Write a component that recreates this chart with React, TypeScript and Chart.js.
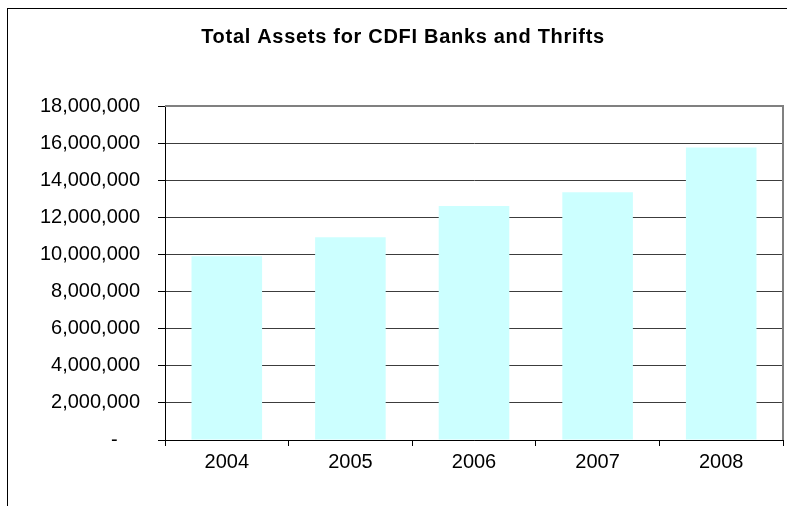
import React, { useEffect, useRef } from "react";
import { Chart, registerables } from "chart.js";

Chart.register(...registerables);

const TITLE = "Total Assets for CDFI Banks and Thrifts";
const YEARS = ["2004", "2005", "2006", "2007", "2008"];
const TOTAL_ASSETS = [9900000, 10920000, 12610000, 13350000, 15770000];
const Y_MIN = 0;
const Y_MAX = 18000000;
const Y_STEP = 2000000;

const FONT_FAMILY = "Arial, 'Liberation Sans', Helvetica, sans-serif";

const framePlugin = {
  id: "framePlugin",
  beforeDatasetsDraw(chart: any) {
    const { ctx, chartArea } = chart;
    ctx.save();
    ctx.strokeStyle = "#808080";
    ctx.lineWidth = 2;
    ctx.beginPath();
    ctx.moveTo(chartArea.left, chartArea.top);
    ctx.lineTo(chartArea.right, chartArea.top);
    ctx.lineTo(chartArea.right, chartArea.bottom);
    ctx.stroke();
    ctx.restore();
  },
  afterDraw(chart: any) {
    const { ctx } = chart;
    ctx.save();
    ctx.font = `bold 20px ${FONT_FAMILY}`;
    try {
      (ctx as any).letterSpacing = "0.7px";
    } catch (e) {}
    ctx.fillStyle = "#000";
    ctx.textAlign = "center";
    ctx.textBaseline = "alphabetic";
    ctx.fillText(TITLE, 403, 43);
    ctx.restore();
  },
};

export default function App() {
  const ref = useRef<HTMLCanvasElement | null>(null);

  useEffect(() => {
    if (!ref.current) return;
    const chart = new Chart(ref.current, {
      type: "bar",
      data: {
        labels: YEARS,
        datasets: [
          {
            data: TOTAL_ASSETS,
            backgroundColor: "#CCFFFF",
            borderWidth: 0,
            barPercentage: 1,
            categoryPercentage: 0.571,
          },
        ],
      },
      options: {
        animation: false,
        responsive: false,
        devicePixelRatio: 1,
        layout: { padding: { top: 106, right: 4, bottom: 0, left: 0 } },
        plugins: {
          legend: { display: false },
          title: { display: false },
          tooltip: { enabled: false },
        },
        scales: {
          x: {
            grid: {
              display: true,
              drawOnChartArea: false,
              drawTicks: true,
              tickLength: 6,
              tickColor: "#000",
              offset: true,
            },
            border: { color: "#000", width: 1 },
            ticks: {
              color: "#000",
              font: { family: FONT_FAMILY, size: 20 },
              padding: 4,
              maxRotation: 0,
            },
            afterFit(scale: any) {
              scale.height = 66;
            },
          },
          y: {
            min: Y_MIN,
            max: Y_MAX,
            grid: {
              color: "#3c3c3c",
              lineWidth: 1,
              drawTicks: true,
              tickLength: 7,
              tickColor: "#000",
            },
            border: { color: "#000", width: 1 },
            ticks: {
              stepSize: Y_STEP,
              color: "#000",
              font: { family: FONT_FAMILY, size: 20 },
              padding: 18,
              callback: (v: any) =>
                Number(v) === 0 ? "-    " : Number(v).toLocaleString("en-US"),
            },
            afterFit(scale: any) {
              scale.width = 165;
            },
          },
        },
      },
      plugins: [framePlugin],
    });
    return () => chart.destroy();
  }, []);

  return (
    <>
      <div
        style={{
          position: "fixed",
          left: 7,
          top: 8,
          width: 900,
          height: 700,
          border: "1px solid #000",
          boxSizing: "border-box",
        }}
      />
      <canvas
        ref={ref}
        width={787}
        height={506}
        style={{ position: "fixed", left: 0, top: 0, width: 787, height: 506 }}
      />
    </>
  );
}
